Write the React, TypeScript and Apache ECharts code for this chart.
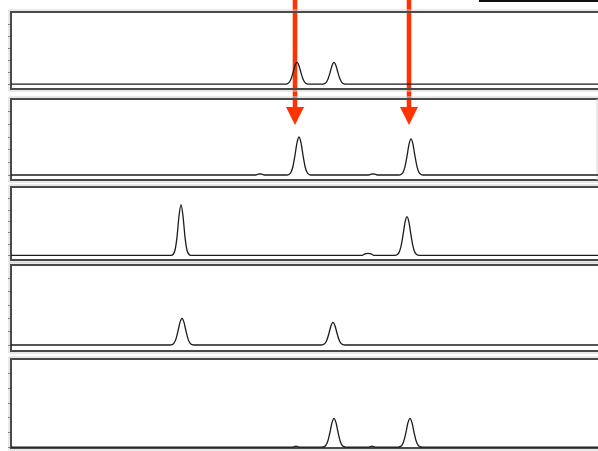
import React, { useEffect, useRef } from "react";
import * as echarts from "echarts";

// x in scan units, y in relative intensity (ticks 0..100 per panel)
const trace1: number[][] = [
  [0, 0],
  [274, 0], [276, 0.5], [278, 2.5], [280, 8.3], [282, 18.7], [284, 30.6], [286, 36], [288, 30.6], [290, 18.7], [292, 8.3], [294, 2.5], [296, 0.5], [298, 0],
  [311, 0], [313, 0.5], [315, 2.5], [317, 8.3], [319, 18.7], [321, 30.6], [323, 36], [325, 30.6], [327, 18.7], [329, 8.3], [331, 2.5], [333, 0.5], [335, 0],
  [587, 0],
];
const trace2: number[][] = [
  [0, 0],
  [244, 0], [247, 1.2], [249, 1.6], [251, 1.2], [254, 0],
  [276, 0], [278, 0.9], [280, 4.2], [282, 13.8], [284, 31.2], [286, 51], [288, 60], [290, 51], [292, 31.2], [294, 13.8], [296, 4.2], [298, 0.9], [300, 0],
  [357, 0], [360, 1.2], [362, 1.6], [364, 1.2], [367, 0],
  [388, 0], [390, 0.9], [392, 4], [394, 13.1], [396, 29.6], [398, 48.5], [400, 57], [402, 48.5], [404, 29.6], [406, 13.1], [408, 4], [410, 0.9], [412, 0],
  [587, 0],
];
const trace3: number[][] = [
  [0, 0],
  [160, 0], [162, 1.5], [164, 8.9], [166, 32], [168, 69], [170, 89], [172, 69], [174, 32], [176, 8.9], [178, 1.5], [180, 0],
  [351, 0], [354, 2.5], [357, 3.5], [360, 2.5], [363, 0],
  [384, 0], [386, 1], [388, 4.8], [390, 15.6], [392, 35.4], [394, 57.8], [396, 68], [398, 57.8], [400, 35.4], [402, 15.6], [404, 4.8], [406, 1], [408, 0],
  [587, 0],
];
const trace4: number[][] = [
  [0, 0],
  [159, 0], [161, 0.6], [163, 2.8], [165, 9.2], [167, 20.8], [169, 34], [171, 40], [173, 34], [175, 20.8], [177, 9.2], [179, 2.8], [181, 0.6], [183, 0],
  [310, 0], [312, 0.5], [314, 2.4], [316, 7.8], [318, 17.7], [320, 28.9], [322, 34], [324, 28.9], [326, 17.7], [328, 7.8], [330, 2.4], [332, 0.5], [334, 0],
  [587, 0],
];
const trace5: number[][] = [
  [0, 0],
  [282, 0], [285, 1.2], [288, 0],
  [311, 0], [313, 0.6], [315, 2.7], [317, 9], [319, 20.3], [321, 33.2], [323, 39], [325, 33.2], [327, 20.3], [329, 9], [331, 2.7], [333, 0.6], [335, 0],
  [358, 0], [361, 1.2], [364, 0],
  [387, 0], [389, 0.6], [391, 2.7], [393, 9], [395, 20.3], [397, 33.2], [399, 39], [401, 33.2], [403, 20.3], [405, 9], [407, 2.7], [409, 0.6], [411, 0],
  [587, 0],
];
const traces = [trace1, trace2, trace3, trace4, trace5];

const yMins = [-8.2, -7.9, -8.2, -9, -1.3];
const yMax = 120;
const tickValues = [0, 20, 40, 60, 80, 100];
const xMax = 587;
const arrowScans = [284, 398];

// layout
const gridLeft = 11;
const gridTops = [12, 99, 187, 265, 359];
const gridHeights = [77, 81, 73, 86, 89];
const W = 598;
const H = 451;

export default function App() {
  const ref = useRef<HTMLDivElement>(null);
  useEffect(() => {
    if (!ref.current) return;
    const chart = echarts.init(ref.current, undefined, { renderer: "svg" });
    const grids = gridTops.map((t, i) => ({
      left: gridLeft,
      top: t,
      height: gridHeights[i],
      width: W - gridLeft,
      show: false,
    }));
    const xAxes = traces.map((_, i) => ({
      type: "value",
      gridIndex: i,
      min: 0,
      max: xMax,
      show: false,
    }));
    const yAxes = traces.map((_, i) => ({
      type: "value",
      gridIndex: i,
      min: yMins[i],
      max: yMax,
      axisLine: { show: false },
      axisLabel: { show: false },
      splitLine: { show: false },
      axisTick: {
        show: true,
        length: 3,
        customValues: tickValues,
        lineStyle: { color: "#333", width: 1 },
      },
    }));
    const series = traces.map((d, i) => ({
      type: "line",
      xAxisIndex: i,
      yAxisIndex: i,
      data: d,
      showSymbol: false,
      smooth: 0.2,
      lineStyle: { color: "#1c1c1c", width: 1.3 },
      silent: true,
      z: 3,
    }));
    chart.setOption({
      animation: false,
      grid: grids,
      xAxis: xAxes,
      yAxis: yAxes,
      series,
    });
    const frames: any[] = [];
    gridTops.forEach((t, i) => {
      const b = t + gridHeights[i];
      frames.push({
        type: "polyline",
        shape: { points: [[W + 5, t - 2], [gridLeft - 2, t - 2], [gridLeft - 2, b + 2], [W + 5, b + 2]] },
        style: { fill: "none", stroke: "#d2d2d2", lineWidth: 1 },
        z: 1,
      });
      frames.push({
        type: "polyline",
        shape: { points: [[W + 5, t], [gridLeft, t], [gridLeft, b], [W + 5, b]] },
        style: { fill: "none", stroke: "#4a4a4a", lineWidth: 2 },
        z: 2,
      });
    });
    frames.push({
      type: "line",
      shape: { x1: W - 1, y1: gridTops[1], x2: W - 1, y2: gridTops[1] + gridHeights[1] },
      style: { stroke: "#d8d8d8", lineWidth: 1 },
      z: 2,
    });
    const arrows = arrowScans.map((v) => {
      const px = chart.convertToPixel({ xAxisIndex: 0 }, v) as number;
      return {
        type: "group",
        z: 100,
        children: [
          { type: "rect", shape: { x: px - 2.3, y: -2, width: 4.6, height: 111 }, style: { fill: "#ff3300" } },
          { type: "polygon", shape: { points: [[px - 9, 107], [px + 9, 107], [px, 125]] }, style: { fill: "#ff3300" } },
        ],
      };
    });
    chart.setOption({
      graphic: [
        ...frames,
        { type: "rect", shape: { x: 479, y: 0, width: 119, height: 2 }, style: { fill: "#111" }, z: 100 },
        ...arrows,
      ],
    });
    return () => chart.dispose();
  }, []);
  return (
    <div
      ref={ref}
      style={{ position: "fixed", left: 0, top: 0, width: W, height: H, background: "#fff" }}
    />
  );
}
